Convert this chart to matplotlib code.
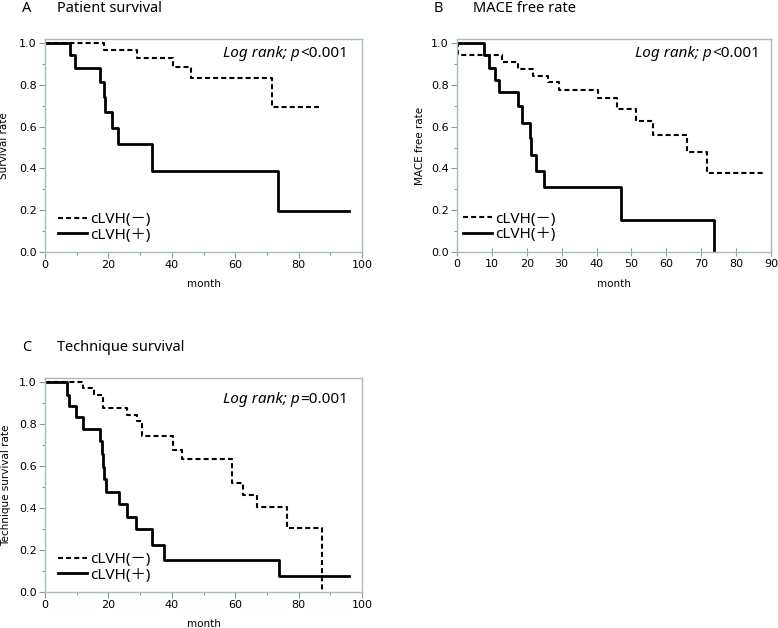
import matplotlib
matplotlib.use("Agg")
import matplotlib.pyplot as plt
from matplotlib.ticker import MultipleLocator, FormatStrFormatter, NullLocator

plt.rcParams['font.family'] = ['DejaVu Sans']

# ---- data ----
group_labels = ['cLVH(－)', 'cLVH(＋)']

a_neg_t = [0, 18.7, 28.9, 40.3, 46.0, 71.6, 86.3]
a_neg_s = [1.0, 0.968, 0.928, 0.885, 0.833, 0.694, 0.694]
a_pos_t = [0, 7.8, 9.6, 17.2, 18.5, 18.8, 21.1, 23.0, 33.6, 73.5, 96.0]
a_pos_s = [1.0, 0.945, 0.881, 0.816, 0.742, 0.669, 0.594, 0.519, 0.390, 0.196, 0.196]

b_neg_t = [0, 0.3, 12.9, 17.6, 21.9, 26.0, 29.3, 40.5, 46.0, 51.4, 56.2, 66.0, 71.7, 87.6]
b_neg_s = [1.0, 0.941, 0.912, 0.877, 0.845, 0.813, 0.778, 0.737, 0.686, 0.627, 0.558, 0.478, 0.380, 0.380]
b_pos_t = [0, 7.6, 9.3, 10.8, 11.9, 17.6, 18.6, 21.0, 21.2, 22.6, 25.0, 47.1, 73.8]
b_pos_s = [1.0, 0.941, 0.882, 0.825, 0.766, 0.697, 0.617, 0.547, 0.466, 0.386, 0.311, 0.155, 0.0]

c_neg_t = [0, 12.1, 15.3, 18.2, 26.0, 28.9, 30.5, 40.3, 43.2, 58.9, 62.6, 66.8, 76.3, 87.4]
c_neg_s = [1.0, 0.973, 0.941, 0.877, 0.845, 0.817, 0.745, 0.678, 0.635, 0.518, 0.463, 0.407, 0.303, 0.0]
c_pos_t = [0, 6.8, 7.7, 9.8, 12.1, 17.2, 17.9, 18.4, 18.7, 19.1, 23.2, 25.8, 28.7, 33.7, 37.6, 73.7, 96.0]
c_pos_s = [1.0, 0.941, 0.885, 0.833, 0.777, 0.718, 0.659, 0.598, 0.537, 0.478, 0.418, 0.359, 0.298, 0.223, 0.152, 0.075, 0.075]

panel_letters = ['A', 'B', 'C']
panel_titles = ['Patient survival', 'MACE free rate', 'Technique survival']
y_labels = ['Survival rate', 'MACE free rate', 'Technique survival rate']
x_label = 'month'
logrank_label = 'Log rank; p'
p_texts = ['<0.001', '<0.001', '=0.001']
x_max = [100, 90, 100]
x_major = [20, 10, 20]
x_minor = [10, None, 10]

# ---- figure ----
W, H = 778, 628
fig = plt.figure(figsize=(W / 100, H / 100), dpi=100)

def frac(l, r, t, b):
    return [l / W, 1 - b / H, (r - l) / W, (b - t) / H]

axes_px = [(45, 362, 39, 252), (457, 771, 39, 252), (45, 362, 378, 592)]
letter_px = [(27, 8.5), (438, 8.5), (27, 347.5)]
title_px = [(57, 8.5), (473, 8.5), (57, 347.5)]
ylab_x = [-0.112, -0.103, -0.108]
p_pos = [(0.956, 0.934), (0.965, 0.930), (0.955, 0.900)]
leg_pos = [(0.040, 0.188), (0.018, 0.190), (0.040, 0.187)]

spine_col = '#a7bdb9'
tick_col = '#8a9a98'
text_font = ['Noto Sans', 'Noto Sans CJK JP']

data = [(a_neg_t, a_neg_s, a_pos_t, a_pos_s),
        (b_neg_t, b_neg_s, b_pos_t, b_pos_s),
        (c_neg_t, c_neg_s, c_pos_t, c_pos_s)]

for i in range(3):
    ax = fig.add_axes(frac(*axes_px[i]))
    nt, ns, pt, ps = data[i]
    l1, = ax.step(nt, ns, where='post', color='black', lw=1.5,
                  dashes=(2.4, 1.5))
    l2, = ax.step(pt, ps, where='post', color='black', lw=2.0)
    ax.set_xlim(0, x_max[i])
    ax.set_ylim(0, 1.02)
    ax.xaxis.set_major_locator(MultipleLocator(x_major[i]))
    if x_minor[i]:
        ax.xaxis.set_minor_locator(MultipleLocator(x_minor[i]))
    else:
        ax.xaxis.set_minor_locator(NullLocator())
    ax.yaxis.set_major_locator(MultipleLocator(0.2))
    ax.yaxis.set_minor_locator(MultipleLocator(0.1))
    ax.yaxis.set_major_formatter(FormatStrFormatter('%.1f'))
    for s in ax.spines.values():
        s.set_color(spine_col)
        s.set_linewidth(1.0)
    ax.tick_params(which='major', direction='out', length=4, width=0.8,
                   color=tick_col, labelsize=8, pad=2)
    ax.tick_params(which='minor', direction='out', length=2.5, width=0.8,
                   color=tick_col)
    if x_minor[i] is None:
        ax.tick_params(axis='x', which='major', direction='inout', length=6)
    ax.set_xlabel(x_label, fontsize=7.5)
    ax.xaxis.set_label_coords(0.5, -0.125)
    ax.set_ylabel(y_labels[i], fontsize=7.5)
    ax.yaxis.set_label_coords(ylab_x[i], 0.5)

    t_reg = ax.text(p_pos[i][0], p_pos[i][1], p_texts[i],
                    transform=ax.transAxes, ha='right', va='center',
                    fontsize=11, family=text_font)
    ax.annotate(logrank_label, xy=(0, 0), xycoords=t_reg,
                ha='right', va='bottom', fontsize=11, family=text_font,
                style='italic')

    ax.legend([l1, l2], group_labels, loc='upper left',
              bbox_to_anchor=leg_pos[i], frameon=False,
              handlelength=1.9, handletextpad=0.25, labelspacing=0.05,
              borderpad=0, borderaxespad=0,
              prop={'family': text_font, 'size': 11})

    fig.text(letter_px[i][0] / W, 1 - letter_px[i][1] / H, panel_letters[i],
             ha='center', va='center', fontsize=10.5, family=text_font)
    fig.text(title_px[i][0] / W, 1 - title_px[i][1] / H, panel_titles[i],
             ha='left', va='center', fontsize=10.5, family=text_font)

fig.savefig('out.png', dpi=100, facecolor='white')
